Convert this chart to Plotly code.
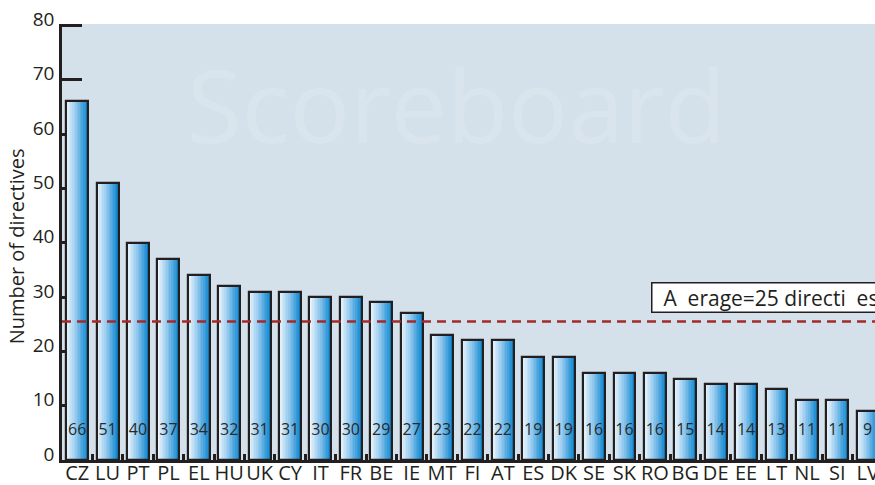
import plotly.graph_objects as go

countries = ["CZ", "LU", "PT", "PL", "EL", "HU", "UK", "CY", "IT", "FR", "BE", "IE", "MT", "FI",
             "AT", "ES", "DK", "SE", "SK", "RO", "BG", "DE", "EE", "LT", "NL", "SI", "LV"]
directives = [66, 51, 40, 37, 34, 32, 31, 31, 30, 30, 29, 27, 23, 22,
              22, 19, 19, 16, 16, 16, 15, 14, 14, 13, 11, 11, 9]
average_line = 25.5
average_label = "\u00a0\u00a0A\u00a0\u00a0erage=25 directi\u00a0\u00a0es\u00a0\u00a0\u00a0"
y_ticks = [0, 10, 20, 30, 40, 50, 60, 70, 80]

FONT = "Open Sans"
TXT = "#231f20"
BAR_W = 0.72
N_SLICES = 14


def lerp(c1, c2, t):
    return tuple(round(a + (b - a) * t) for a, b in zip(c1, c2))


def grad(t):
    stops = [(0.0, (246, 250, 253)), (0.45, (150, 202, 238)), (1.0, (8, 132, 207))]
    for (t0, c0), (t1, c1) in zip(stops[:-1], stops[1:]):
        if t <= t1:
            r, g, b = lerp(c0, c1, (t - t0) / (t1 - t0))
            return f"rgb({r},{g},{b})"
    r, g, b = stops[-1][1]
    return f"rgb({r},{g},{b})"


fig = go.Figure()
sw = BAR_W / N_SLICES
for i in range(N_SLICES):
    fig.add_trace(go.Bar(
        x=countries, y=directives, width=sw * 1.05, offset=-BAR_W / 2 + i * sw,
        marker=dict(color=grad((i + 0.5) / N_SLICES), line=dict(width=0)),
        showlegend=False, hoverinfo="skip"))

fig.add_trace(go.Bar(
    x=countries, y=directives, width=BAR_W,
    marker=dict(color="rgba(0,0,0,0)", line=dict(color="#231f20", width=2.2)),
    showlegend=False, hoverinfo="skip"))

fig.add_trace(go.Scatter(
    x=countries, y=[5.3] * len(countries), mode="text",
    text=[str(v) for v in directives],
    textfont=dict(family=FONT, size=16, color="#2a2a2a"),
    showlegend=False, hoverinfo="skip"))

fig.add_shape(type="line", xref="paper", x0=0, x1=1, yref="y", y0=average_line, y1=average_line,
              line=dict(color="#a52a2a", width=2.5, dash="9px,6px"))

fig.add_annotation(xref="paper", yref="y", x=0.7245, y=29.9, xanchor="left", yanchor="middle",
                   text=average_label, showarrow=False,
                   font=dict(family=FONT, size=21, color=TXT),
                   bgcolor="white", bordercolor="#231f20", borderwidth=1.5, borderpad=0)

fig.add_annotation(xref="paper", yref="y", x=0.485, y=65.5, xanchor="center", yanchor="middle",
                   text="Scoreboard", showarrow=False,
                   font=dict(family=FONT, size=100, color="rgba(255,255,255,0.13)"))

fig.add_annotation(xref="paper", yref="paper", x=-0.0566, y=0.49, xanchor="center", yanchor="middle",
                   text="Number of directives", textangle=-90, showarrow=False,
                   font=dict(family=FONT, size=20, color=TXT))

fig.update_layout(
    width=875, height=485, template="none",
    margin=dict(l=62, r=0, t=24, b=25),
    paper_bgcolor="white", plot_bgcolor="#d5e1ea",
    barmode="overlay", bargap=0,
    font=dict(family=FONT, color=TXT),
    xaxis=dict(type="category", range=[-0.5, 26.24], showline=True, linecolor="#231f20",
               linewidth=3, ticks="inside", tickson="boundaries", ticklen=6, tickwidth=2.5,
               tickcolor="#231f20", showgrid=False, zeroline=False, automargin=False,
               ticklabelstandoff=-7, tickangle=0,
               tickfont=dict(family=FONT, size=20, color=TXT), layer="below traces"),
    yaxis=dict(range=[0, 80.25], tickvals=y_ticks, showline=True, linecolor="#231f20",
               linewidth=2.5, ticks="inside", ticklen=20, tickwidth=2.5, tickcolor="#231f20",
               showgrid=False, zeroline=False, automargin=False, ticklabelstandoff=1,
               ticklabelshift=-6,
               tickfont=dict(family=FONT, size=19, color=TXT), layer="below traces"),
)

fig.write_html(
    "out.html",
    config={"displayModeBar": False},
    post_script="document.body.style.margin='0';document.body.style.overflow='hidden';",
)
